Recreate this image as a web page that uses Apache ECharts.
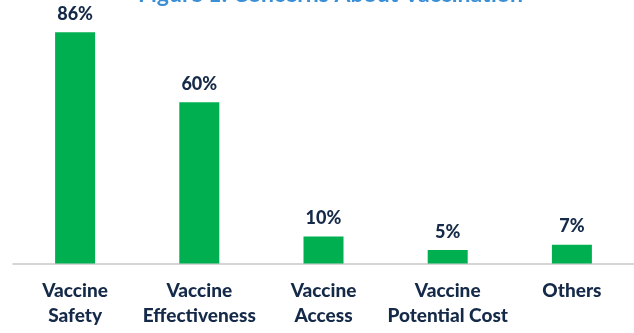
<!DOCTYPE html>
<html>
<head>
<meta charset="utf-8">
<script src="https://cdn.jsdelivr.net/npm/echarts@6/dist/echarts.min.js"></script>
<style>
  html, body { margin: 0; padding: 0; background: #ffffff; }
  #chart { width: 634px; height: 333px; }
</style>
</head>
<body>
<div id="chart"></div>
<script>
// Concerns about vaccination (share of respondents, %)
const categories = ['Vaccine\nSafety', 'Vaccine\nEffectiveness', 'Vaccine\nAccess', 'Vaccine\nPotential Cost', 'Others'];
const shares = [86, 60, 10, 5, 7];

const chart = echarts.init(document.getElementById('chart'), null, { renderer: 'canvas' });

chart.setOption({
  animation: false,
  backgroundColor: '#ffffff',
  title: {
    text: 'Figure 1: Concerns About Vaccination',
    left: 133,
    top: -22,
    textStyle: {
      fontFamily: 'Lato',
      fontWeight: 'bold',
      fontSize: 23,
      color: '#3b8fd6'
    }
  },
  grid: {
    left: 13,
    right: -11,
    top: 32.3,
    bottom: 69.5,
    containLabel: false
  },
  xAxis: {
    type: 'category',
    data: categories,
    axisLine: { show: true, lineStyle: { color: '#c8c8c8', width: 1.5 } },
    axisTick: { show: false },
    axisLabel: {
      margin: 15,
      interval: 0,
      fontFamily: 'Lato',
      fontWeight: 900,
      fontSize: 19,
      lineHeight: 25,
      color: '#152a48'
    }
  },
  yAxis: {
    type: 'value',
    min: 0,
    max: 86,
    show: false,
    splitLine: { show: false }
  },
  series: [{
    type: 'bar',
    data: shares,
    barWidth: 40,
    itemStyle: { color: '#00b050' },
    label: {
      show: true,
      position: 'top',
      distance: 9,
      formatter: '{c}%',
      fontFamily: 'Lato',
      fontWeight: 900,
      fontSize: 18,
      color: '#152a48'
    }
  }]
});
</script>
</body>
</html>
